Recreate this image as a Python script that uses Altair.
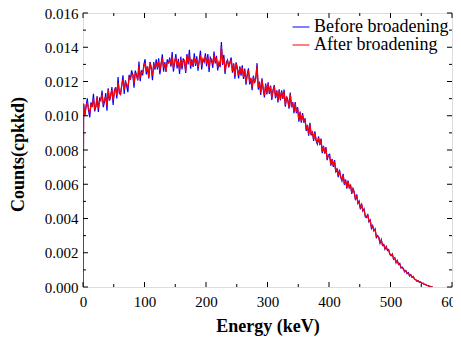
import altair as alt
import pandas as pd

# Energy bins (keV): first point at 0, then 2 keV bins
energy = [0] + list(range(1, 570, 2))

before = [
    0.0,
    0.01070, 0.00997, 0.01054, 0.01102, 0.01029, 0.00991, 0.01078, 0.01051, 0.01128, 0.01025,
    0.01055, 0.01113, 0.01022, 0.01100, 0.01088, 0.01147, 0.01050, 0.01083, 0.01132, 0.01030,
    0.01160, 0.01089, 0.01114, 0.01168, 0.01063, 0.01147, 0.01167, 0.01101, 0.01226, 0.01130,
    0.01125, 0.01176, 0.01236, 0.01127, 0.01207, 0.01173, 0.01138, 0.01239, 0.01209, 0.01265,
    0.01240, 0.01164, 0.01264, 0.01238, 0.01208, 0.01317, 0.01202, 0.01266, 0.01236, 0.01300,
    0.01330, 0.01241, 0.01287, 0.01218, 0.01314, 0.01281, 0.01207, 0.01313, 0.01269, 0.01330,
    0.01270, 0.01336, 0.01242, 0.01303, 0.01359, 0.01258, 0.01314, 0.01256, 0.01329, 0.01305,
    0.01340, 0.01286, 0.01372, 0.01258, 0.01309, 0.01360, 0.01276, 0.01332, 0.01244, 0.01345,
    0.01270, 0.01335, 0.01315, 0.01250, 0.01360, 0.01300, 0.01385, 0.01275, 0.01330, 0.01285,
    0.01365, 0.01291, 0.01347, 0.01263, 0.01324, 0.01380, 0.01271, 0.01332, 0.01314, 0.01365,
    0.01290, 0.01360, 0.01255, 0.01340, 0.01325, 0.01280, 0.01375, 0.01305, 0.01350, 0.01265,
    0.01310, 0.01284, 0.01430, 0.01297, 0.01356, 0.01244, 0.01312, 0.01326, 0.01282, 0.01315,
    0.01340, 0.01251, 0.01306, 0.01217, 0.01312, 0.01278, 0.01218, 0.01289, 0.01234, 0.01295,
    0.01215, 0.01276, 0.01181, 0.01242, 0.01277, 0.01183, 0.01218, 0.01149, 0.01234, 0.01190,
    0.01225, 0.01307, 0.01153, 0.01200, 0.01122, 0.01218, 0.01155, 0.01107, 0.01188, 0.01125,
    0.01195, 0.01128, 0.01176, 0.01093, 0.01151, 0.01179, 0.01102, 0.01149, 0.01077, 0.01155,
    0.01090, 0.01149, 0.01099, 0.01153, 0.01053, 0.01112, 0.01092, 0.01041, 0.01136, 0.01050,
    0.01080, 0.01015, 0.01080, 0.01015, 0.01050, 0.00965, 0.01025, 0.00960, 0.01015, 0.00960,
    0.00985, 0.00911, 0.00947, 0.00883, 0.00959, 0.00886, 0.00907, 0.00853, 0.00909, 0.00855,
    0.00835, 0.00879, 0.00828, 0.00867, 0.00781, 0.00824, 0.00778, 0.00817, 0.00741, 0.00770,
    0.00775, 0.00709, 0.00748, 0.00702, 0.00741, 0.00669, 0.00693, 0.00642, 0.00686, 0.00640,
    0.00620, 0.00661, 0.00597, 0.00628, 0.00574, 0.00621, 0.00577, 0.00598, 0.00544, 0.00575,
    0.00555, 0.00508, 0.00541, 0.00488, 0.00501, 0.00454, 0.00487, 0.00444, 0.00457, 0.00410,
    0.00405, 0.00426, 0.00381, 0.00392, 0.00342, 0.00358, 0.00328, 0.00339, 0.00289, 0.00300,
    0.00290, 0.00256, 0.00277, 0.00243, 0.00249, 0.00221, 0.00237, 0.00213, 0.00219, 0.00190,
    0.00182, 0.00193, 0.00162, 0.00171, 0.00142, 0.00156, 0.00132, 0.00138, 0.00111, 0.00116,
    0.00108, 0.00088, 0.00096, 0.00078, 0.00084, 0.00064, 0.00072, 0.00057, 0.00062, 0.00045,
    0.00044, 0.00034, 0.00037, 0.00028, 0.00030, 0.00020, 0.00022, 0.00015, 0.00015, 0.00009,
    0.00008, 0.00005, 0.00003, 0.00001, 0.00000,
]

after = [
    0.0,
    0.01070, 0.01003, 0.01062, 0.01076, 0.01040, 0.01015, 0.01065, 0.01056, 0.01100, 0.01039,
    0.01053, 0.01112, 0.01043, 0.01085, 0.01099, 0.01124, 0.01065, 0.01095, 0.01114, 0.01054,
    0.01152, 0.01087, 0.01124, 0.01151, 0.01089, 0.01138, 0.01166, 0.01119, 0.01194, 0.01141,
    0.01127, 0.01180, 0.01211, 0.01151, 0.01196, 0.01185, 0.01162, 0.01223, 0.01215, 0.01243,
    0.01241, 0.01188, 0.01248, 0.01242, 0.01206, 0.01292, 0.01221, 0.01253, 0.01251, 0.01285,
    0.01310, 0.01257, 0.01289, 0.01223, 0.01311, 0.01270, 0.01234, 0.01298, 0.01281, 0.01310,
    0.01282, 0.01319, 0.01264, 0.01306, 0.01335, 0.01280, 0.01305, 0.01259, 0.01312, 0.01312,
    0.01324, 0.01299, 0.01346, 0.01276, 0.01318, 0.01342, 0.01291, 0.01318, 0.01267, 0.01329,
    0.01288, 0.01322, 0.01324, 0.01259, 0.01352, 0.01311, 0.01358, 0.01291, 0.01320, 0.01297,
    0.01342, 0.01302, 0.01333, 0.01284, 0.01315, 0.01355, 0.01292, 0.01334, 0.01323, 0.01348,
    0.01304, 0.01342, 0.01280, 0.01330, 0.01331, 0.01300, 0.01355, 0.01317, 0.01333, 0.01284,
    0.01315, 0.01295, 0.01405, 0.01305, 0.01340, 0.01262, 0.01300, 0.01320, 0.01290, 0.01305,
    0.01328, 0.01262, 0.01300, 0.01235, 0.01305, 0.01270, 0.01235, 0.01282, 0.01245, 0.01280,
    0.01225, 0.01265, 0.01195, 0.01235, 0.01265, 0.01195, 0.01222, 0.01165, 0.01225, 0.01198,
    0.01215, 0.01290, 0.01165, 0.01195, 0.01135, 0.01210, 0.01160, 0.01120, 0.01180, 0.01135,
    0.01185, 0.01135, 0.01170, 0.01105, 0.01145, 0.01172, 0.01112, 0.01145, 0.01090, 0.01148,
    0.01098, 0.01140, 0.01103, 0.01140, 0.01062, 0.01106, 0.01090, 0.01052, 0.01125, 0.01058,
    0.01072, 0.01025, 0.01070, 0.01022, 0.01042, 0.00975, 0.01018, 0.00968, 0.01005, 0.00965,
    0.00978, 0.00920, 0.00942, 0.00892, 0.00950, 0.00893, 0.00905, 0.00862, 0.00900, 0.00862,
    0.00842, 0.00870, 0.00832, 0.00860, 0.00790, 0.00820, 0.00784, 0.00810, 0.00750, 0.00768,
    0.00768, 0.00716, 0.00742, 0.00708, 0.00735, 0.00675, 0.00690, 0.00650, 0.00680, 0.00645,
    0.00626, 0.00654, 0.00602, 0.00624, 0.00580, 0.00616, 0.00580, 0.00594, 0.00550, 0.00572,
    0.00550, 0.00514, 0.00536, 0.00493, 0.00498, 0.00460, 0.00482, 0.00448, 0.00452, 0.00416,
    0.00410, 0.00420, 0.00385, 0.00388, 0.00348, 0.00355, 0.00330, 0.00335, 0.00294, 0.00298,
    0.00286, 0.00260, 0.00273, 0.00247, 0.00246, 0.00225, 0.00234, 0.00216, 0.00215, 0.00194,
    0.00185, 0.00189, 0.00165, 0.00168, 0.00146, 0.00152, 0.00134, 0.00135, 0.00114, 0.00114,
    0.00105, 0.00091, 0.00093, 0.00080, 0.00081, 0.00067, 0.00070, 0.00059, 0.00060, 0.00047,
    0.00042, 0.00035, 0.00036, 0.00029, 0.00029, 0.00021, 0.00021, 0.00016, 0.00014, 0.00010,
    0.00007, 0.00005, 0.00003, 0.00001, 0.00000,
]

series_names = ["Before broadening", "After broadening"]
series_colors = ["#0000ff", "#ff0000"]

x_major = [0, 100, 200, 300, 400, 500, 600]
x_minor = [50, 150, 250, 350, 450, 550]
y_major = [0.000, 0.002, 0.004, 0.006, 0.008, 0.010, 0.012, 0.014, 0.016]
y_minor = [0.001, 0.003, 0.005, 0.007, 0.009, 0.011, 0.013, 0.015]

W, H = 369, 274
FONT = "Liberation Serif"

df_b = pd.DataFrame({"energy": energy, "counts": before, "series": series_names[0]})
df_a = pd.DataFrame({"energy": energy, "counts": after, "series": series_names[1]})

xs = alt.Scale(domain=[0, 600], nice=False, zero=False)
ys = alt.Scale(domain=[0, 0.016], nice=False, zero=False)

x_axis = alt.Axis(title="Energy (keV)", values=x_major, format="d", grid=False, ticks=False,
                  tickSize=0, domain=False, labelFont=FONT, labelFontSize=15, labelColor="black",
                  labelPadding=7, titleFont=FONT, titleFontSize=18, titleFontWeight="bold",
                  titleColor="black", titleX=W / 2, titleY=44, titleBaseline="alphabetic",
                  titleAnchor="middle", labelFlush=False, labelOverlap=False)
y_axis = alt.Axis(title="Counts(cpkkd)", values=y_major, format=".3f", grid=False, ticks=False,
                  tickSize=0, domain=False, labelFont=FONT, labelFontSize=15, labelColor="black",
                  labelPadding=5, titleFont=FONT, titleFontSize=18, titleFontWeight="bold",
                  titleColor="black", titleX=-60, titleY=H / 2 + 4, titleAngle=-90,
                  titleBaseline="alphabetic", titleAlign="center", labelFlush=False,
                  labelOverlap=False)

color = alt.Color("series:N",
                  scale=alt.Scale(domain=series_names, range=series_colors),
                  legend=alt.Legend(title=None, orient="none", legendX=209, legendY=5,
                                    symbolType="stroke", symbolSize=289, symbolStrokeWidth=1,
                                    labelFont=FONT, labelFontSize=18, labelColor="black",
                                    labelOffset=4, rowPadding=0, padding=0))

line_b = alt.Chart(df_b).mark_line(strokeWidth=1.2, clip=True).encode(
    x=alt.X("energy:Q", scale=xs, axis=x_axis),
    y=alt.Y("counts:Q", scale=ys, axis=y_axis),
    color=color,
)
line_a = alt.Chart(df_a).mark_line(strokeWidth=1.2, clip=True).encode(
    x=alt.X("energy:Q", scale=xs, axis=x_axis),
    y=alt.Y("counts:Q", scale=ys, axis=y_axis),
    color=color,
)


def xticks(vals, length):
    d = pd.DataFrame({"energy": vals})
    bottom = alt.Chart(d).mark_rule(color="black", strokeWidth=1).encode(
        x=alt.X("energy:Q", scale=xs, axis=x_axis), y=alt.value(H), y2=alt.value(H - length))
    top = alt.Chart(d).mark_rule(color="black", strokeWidth=1).encode(
        x=alt.X("energy:Q", scale=xs, axis=x_axis), y=alt.value(0), y2=alt.value(length))
    return [bottom, top]


def yticks(vals, length):
    d = pd.DataFrame({"counts": vals})
    left = alt.Chart(d).mark_rule(color="black", strokeWidth=1).encode(
        y=alt.Y("counts:Q", scale=ys, axis=y_axis), x=alt.value(0), x2=alt.value(length))
    right = alt.Chart(d).mark_rule(color="black", strokeWidth=1).encode(
        y=alt.Y("counts:Q", scale=ys, axis=y_axis), x=alt.value(W), x2=alt.value(W - length))
    return [left, right]


layers = [line_b, line_a] + xticks(x_major, 5) + xticks(x_minor, 3) + yticks(y_major, 5) + yticks(y_minor, 3)

chart = alt.layer(*layers).properties(
    width=W, height=H,
    autosize=alt.AutoSizeParams(type="none"),
    padding={"left": 75, "top": 5, "right": 1, "bottom": 49},
).configure_view(stroke="black", strokeWidth=1).configure(background="white")

chart.save("out.html", embed_options={"renderer": "svg", "actions": False})
